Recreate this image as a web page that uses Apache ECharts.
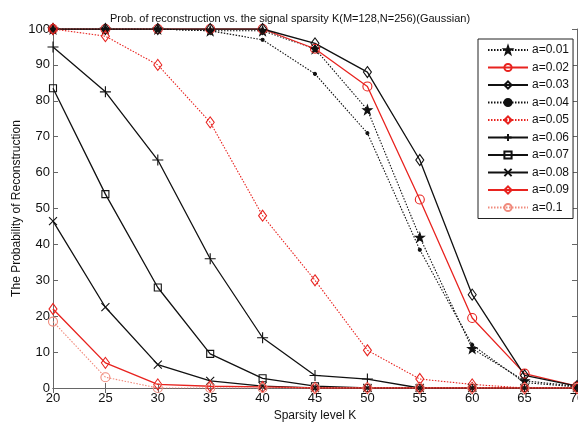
<!DOCTYPE html>
<html><head><meta charset="utf-8">
<script src="https://cdn.jsdelivr.net/npm/echarts@6/dist/echarts.min.js"></script>
<style>html,body{margin:0;padding:0;background:#fff}#c{width:578px;height:422px}</style>
</head><body><div id="c"></div>
<script>
const kValues = [20,25,30,35,40,45,50,55,60,65,70];
const seriesNames = ['a=0.01','a=0.02','a=0.03','a=0.04','a=0.05','a=0.06','a=0.07','a=0.08','a=0.09','a=0.1'];
const a001 = [100,100,100,99.5,99.5,94.5,77.5,42,11,2,0.5];
const a002 = [100,100,100,100,100,94.5,84,52.5,19.5,4,0.5];
const a003 = [100,100,100,100,100,96,88,63.5,26,3.5,0.5];
const a004 = [100,100,100,99.5,97,87.5,71,38.5,12,1.5,0.3];
const a005 = [100,98,90,74,48,30,10.5,2.5,1,0,0];
const a006 = [95,82.5,63.5,36,14,3.5,2.5,0,0,0,0];
const a007 = [83.5,54,28,9.5,2.7,0.5,0,0,0,0,0];
const a008 = [46.5,22.5,6.5,2,0.5,0,0,0,0,0,0];
const a009 = [22,7,1,0.5,0.3,0,0,0,0,0,0];
const a010 = [18.5,3,0,0,0,0,0,0,0,0,0];
const yTicks = [0,10,20,30,40,50,60,70,80,90,100];

const allValues = [a001,a002,a003,a004,a005,a006,a007,a008,a009,a010];
const RED = '#e8231f', LRED = '#f08a7c', BLK = '#111';
const STAR = 'path://M0,-10L2.35,-3.24L9.51,-3.09L3.8,1.24L5.88,8.09L0,4L-5.88,8.09L-3.8,1.24L-9.51,-3.09L-2.35,-3.24Z';
const PLUS = 'path://M0,-1L0,1M-1,0L1,0';
const CROSS = 'path://M-1,-1L1,1M-1,1L1,-1';
const HOLLOW = 'rgba(255,255,255,0)';
const styles = [
  {c:BLK, t:[1.5,1.5], w:1.1, s:STAR, ss:9, fill:BLK},
  {c:RED, t:'solid', w:1.3, s:'circle', ss:9, fill:HOLLOW},
  {c:BLK, t:'solid', w:1.3, s:'diamond', ss:[8,11], fill:HOLLOW},
  {c:BLK, t:[1.5,1.5], w:1.1, s:'circle', ss:3, fill:BLK},
  {c:RED, t:[1.5,1.5], w:1.1, s:'diamond', ss:[8,11], fill:HOLLOW},
  {c:BLK, t:'solid', w:1.3, s:PLUS, ss:11, fill:HOLLOW},
  {c:BLK, t:'solid', w:1.3, s:'rect', ss:7, fill:HOLLOW},
  {c:BLK, t:'solid', w:1.3, s:CROSS, ss:8, fill:HOLLOW},
  {c:RED, t:'solid', w:1.4, s:'diamond', ss:[8,11], fill:HOLLOW},
  {c:LRED, t:[1.5,1.5], w:1.1, s:'circle', ss:9, fill:HOLLOW}
];

const series = seriesNames.map((name, i) => ({
  name,
  type: 'line',
  data: kValues.map((k, j) => [k, allValues[i][j]]),
  symbol: styles[i].s,
  symbolSize: styles[i].ss,
  showSymbol: true,
  animation: false,
  lineStyle: {color: styles[i].c, width: styles[i].w, type: styles[i].t},
  itemStyle: {color: styles[i].fill, borderColor: styles[i].c, borderWidth: 1.1},
  emphasis: {disabled: true}
}));

const axisCol = '#666';
const chart = echarts.init(document.getElementById('c'), null, {renderer: 'canvas'});
chart.setOption({
  backgroundColor: '#fff',
  animation: false,
  title: {
    text: 'Prob. of reconstruction vs. the signal sparsity K(M=128,N=256)(Gaussian)',
    left: 285, top: 8, textAlign: 'center',
    textStyle: {fontFamily: 'Liberation Sans, Arial', fontSize: 11, fontWeight: 'normal', color: '#111'}
  },
  grid: {left: 53, right: 1, top: 29, bottom: 34, containLabel: false, outerBoundsMode: 'none'},
  legend: {
    orient: 'vertical', left: 478, top: 39,
    padding: [5, 4, 5, 9],
    itemWidth: 40, itemHeight: 9, itemGap: 5.5,
    backgroundColor: '#fff', borderColor: '#222', borderWidth: 1,
    textStyle: {fontFamily: 'Liberation Sans, Arial', fontSize: 12, color: '#111', padding: [0,0,0,-1]},
    data: seriesNames
  },
  xAxis: [{
    type: 'value', min: 20, max: 70, interval: 5,
    name: 'Sparsity level K', nameLocation: 'middle', nameGap: 22,
    nameTextStyle: {fontFamily: 'Liberation Sans, Arial', fontSize: 12, color: '#111'},
    axisLine: {show: true, lineStyle: {color: axisCol, width: 1}},
    axisTick: {show: true, inside: true, length: 5, lineStyle: {color: axisCol}},
    axisLabel: {fontFamily: 'Liberation Sans, Arial', fontSize: 13, color: '#111', margin: 4},
    splitLine: {show: false}
  }, {
    type: 'value', min: 20, max: 70, interval: 5, position: 'top',
    axisLine: {show: true, lineStyle: {color: axisCol, width: 1}},
    axisTick: {show: true, inside: true, length: 5, lineStyle: {color: axisCol}},
    axisLabel: {show: false}, splitLine: {show: false}
  }],
  yAxis: [{
    type: 'value', min: 0, max: 100, interval: 10,
    name: 'The Probability of Reconstruction', nameLocation: 'middle', nameGap: 30,
    nameMoveOverlap: false,
    nameTextStyle: {fontFamily: 'Liberation Sans, Arial', fontSize: 12, color: '#111'},
    axisLine: {show: true, lineStyle: {color: axisCol, width: 1}},
    axisTick: {show: true, inside: true, length: 5, lineStyle: {color: axisCol}},
    axisLabel: {fontFamily: 'Liberation Sans, Arial', fontSize: 13, color: '#111', margin: 3,
      formatter: v => yTicks.includes(v) ? String(v) : ''},
    splitLine: {show: false}
  }, {
    type: 'value', min: 0, max: 100, interval: 10, position: 'right',
    axisLine: {show: true, lineStyle: {color: axisCol, width: 1}},
    axisTick: {show: true, inside: true, length: 5, lineStyle: {color: axisCol}},
    axisLabel: {show: false}, splitLine: {show: false}
  }],
  series
});
</script></body></html>
